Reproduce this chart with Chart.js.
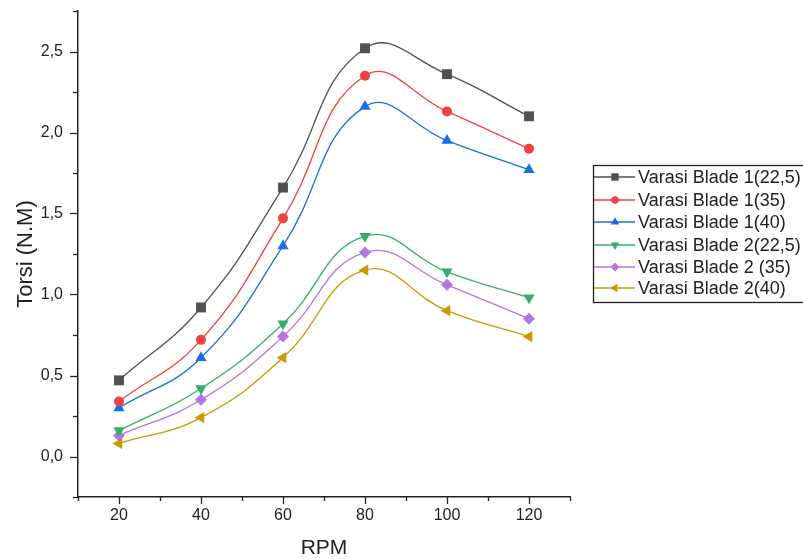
<!DOCTYPE html>
<html>
<head>
<meta charset="utf-8">
<script src="https://cdn.jsdelivr.net/npm/chart.js@4/dist/chart.umd.min.js"></script>
<style>
  html, body { margin: 0; padding: 0; background: #fff; }
  #wrap { width: 803px; height: 559px; }
</style>
</head>
<body>
<div id="wrap"><canvas id="torsiChart" width="803" height="559"></canvas></div>
<script>
// data
const rpm = [20, 40, 60, 80, 100, 120];
const blade1_225 = [0.47, 0.92, 1.66, 2.52, 2.36, 2.10];
const blade1_35  = [0.34, 0.72, 1.47, 2.35, 2.13, 1.90];
const blade1_40  = [0.30, 0.61, 1.30, 2.16, 1.95, 1.77];
const blade2_225 = [0.16, 0.42, 0.82, 1.36, 1.14, 0.98];
const blade2_35  = [0.13, 0.35, 0.74, 1.26, 1.06, 0.85];
const blade2_40  = [0.08, 0.24, 0.61, 1.15, 0.90, 0.74];

const seriesNames = ['Varasi Blade 1(22,5)', 'Varasi Blade 1(35)', 'Varasi Blade 1(40)',
                     'Varasi Blade 2(22,5)', 'Varasi Blade 2 (35)', 'Varasi Blade 2(40)'];
const xTickLabels = [20, 40, 60, 80, 100, 120];
const yTickLabels = [0, 0.5, 1.0, 1.5, 2.0, 2.5];

const FONT = "'Liberation Sans', Arial, sans-serif";

function toPoints(vals) {
    return vals.map((v, i) => ({ x: rpm[i], y: v }));
}

function makeSet(label, vals, color, style, rot, radius) {
    return {
        label: label,
        data: toPoints(vals),
        borderColor: color,
        backgroundColor: color,
        borderWidth: 1.3,
        pointStyle: style,
        rotation: rot,
        pointRadius: radius,
        pointBorderWidth: 0,
        tension: 0.45,
        fill: false
    };
}

const datasets = [
    makeSet(seriesNames[0], blade1_225, '#515151', 'rect', 0, 7),
    makeSet(seriesNames[1], blade1_35, '#F14040', 'circle', 0, 5),
    makeSet(seriesNames[2], blade1_40, '#1A6FDF', 'triangle', 0, 6.5),
    makeSet(seriesNames[3], blade2_225, '#37AD6B', 'triangle', 180, 6.5),
    makeSet(seriesNames[4], blade2_35, '#B177DE', 'rectRot', 0, 6),
    makeSet(seriesNames[5], blade2_40, '#CC9900', 'triangle', 270, 6.5)
];

// outward tick marks (major + minor) like the original plot
const axisTicks = {
    id: 'axisTicks',
    afterDraw(chart) {
        const ctx = chart.ctx;
        const xs = chart.scales.x, ys = chart.scales.y;
        const area = chart.chartArea;
        ctx.save();
        ctx.strokeStyle = '#222';
        ctx.lineWidth = 1.3;
        for (let v = xs.min; v <= xs.max + 0.01; v += 10) {
            const px = Math.round(xs.getPixelForValue(v)) + 0.5;
            const len = v % 20 === 0 ? 7 : 4;
            ctx.beginPath();
            ctx.moveTo(px, area.bottom);
            ctx.lineTo(px, area.bottom + len);
            ctx.stroke();
        }
        for (let v = ys.min; v <= ys.max + 0.001; v += 0.25) {
            const py = Math.round(ys.getPixelForValue(v)) + 0.5;
            const major = Math.abs(v * 2 - Math.round(v * 2)) < 0.001;
            const len = major ? 8 : 5;
            ctx.beginPath();
            ctx.moveTo(area.left, py);
            ctx.lineTo(area.left - len, py);
            ctx.stroke();
        }
        ctx.restore();
    }
};

// legend box with line + marker samples
const boxLegend = {
    id: 'boxLegend',
    afterDraw(chart) {
        const ctx = chart.ctx;
        const left = 593, top = 165, bottom = 302;
        const rowY = [177, 200, 222, 245, 267, 288];
        ctx.save();
        ctx.strokeStyle = '#222';
        ctx.lineWidth = 1.3;
        ctx.strokeRect(left + 0.5, top + 0.5, 230, bottom - top);
        chart.data.datasets.forEach((ds, i) => {
            const y = rowY[i];
            ctx.strokeStyle = ds.borderColor;
            ctx.lineWidth = 1.5;
            ctx.beginPath();
            ctx.moveTo(left + 1, y);
            ctx.lineTo(left + 42, y);
            ctx.stroke();
            ctx.fillStyle = ds.backgroundColor;
            Chart.helpers.drawPoint(ctx, {
                pointStyle: ds.pointStyle,
                rotation: ds.rotation,
                radius: ds.pointRadius * 0.75,
                borderWidth: 0
            }, left + 22, y);
            ctx.fillStyle = '#222';
            ctx.font = '18px ' + FONT;
            ctx.textBaseline = 'middle';
            ctx.textAlign = 'left';
            ctx.fillText(ds.label, 638, y + 1);
        });
        ctx.restore();
    }
};

new Chart(document.getElementById('torsiChart'), {
    type: 'line',
    data: { datasets: datasets },
    options: {
        responsive: false,
        animation: false,
        layout: { padding: { top: 11, right: 233, left: 0, bottom: 0 } },
        plugins: {
            legend: { display: false },
            tooltip: { enabled: false }
        },
        scales: {
            x: {
                type: 'linear',
                min: 10,
                max: 130,
                afterBuildTicks: s => { s.ticks = xTickLabels.map(v => ({ value: v })); },
                afterFit: s => { s.height = 62; s.paddingLeft = 0; s.paddingRight = 0; },
                grid: { display: false, drawTicks: false },
                border: { display: true, color: '#222', width: 1.5 },
                ticks: {
                    autoSkip: false,
                    maxRotation: 0,
                    padding: 9,
                    color: '#222',
                    font: { family: FONT, size: 16 },
                    callback: v => String(v)
                },
                title: {
                    display: true,
                    text: 'RPM',
                    color: '#222',
                    font: { family: FONT, size: 21, lineHeight: 1 },
                    padding: { top: 0, bottom: 0 }
                }
            },
            y: {
                type: 'linear',
                min: -0.25,
                max: 2.75,
                afterBuildTicks: s => { s.ticks = yTickLabels.map(v => ({ value: v })); },
                afterFit: s => { s.width = 78; s.paddingTop = 0; s.paddingBottom = 0; },
                grid: { display: false, drawTicks: false },
                border: { display: true, color: '#222', width: 1.5 },
                ticks: {
                    autoSkip: false,
                    padding: 15,
                    color: '#222',
                    font: { family: FONT, size: 16 },
                    callback: v => Number(v).toFixed(1).replace('.', ',')
                },
                title: {
                    display: true,
                    text: 'Torsi (N.M)',
                    color: '#222',
                    font: { family: FONT, size: 22, lineHeight: 1 },
                    padding: { top: 15, bottom: 0 }
                }
            }
        }
    },
    plugins: [axisTicks, boxLegend]
});
</script>
</body>
</html>
